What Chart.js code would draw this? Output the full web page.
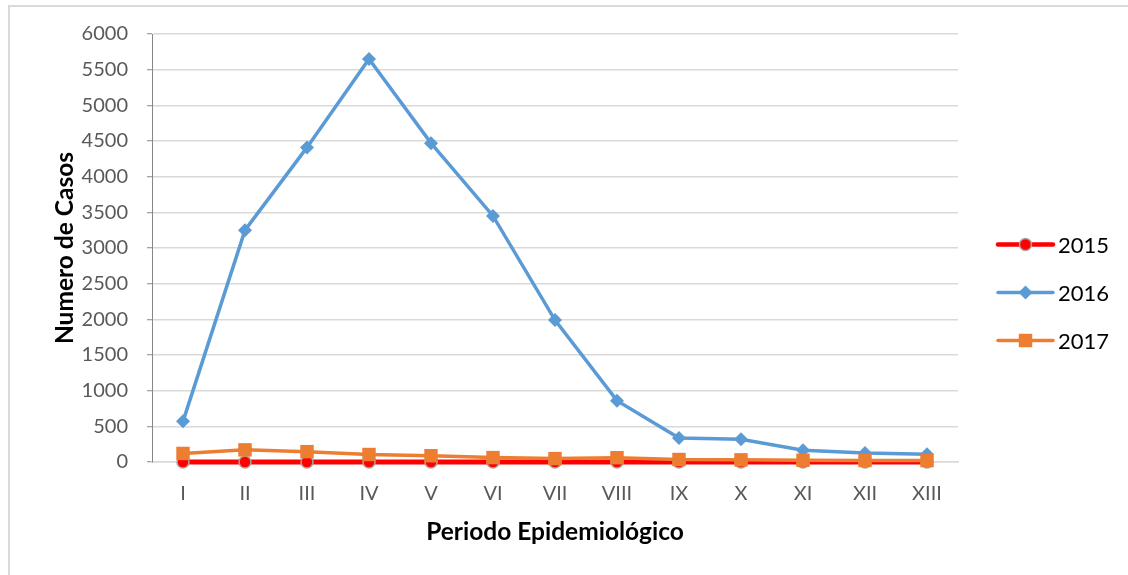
<!DOCTYPE html>
<html>
<head>
<meta charset="utf-8">
<script src="https://cdn.jsdelivr.net/npm/chart.js@4/dist/chart.umd.min.js"></script>
<style>
  html, body { margin: 0; padding: 0; background: #ffffff; }
  body { width: 1128px; height: 575px; overflow: hidden; position: relative; }
  #frame {
    position: absolute; left: 8px; top: 5px;
    width: 1120px; height: 570px;
    box-sizing: border-box;
    border-left: 2px solid #d9d9d9;
    border-top: 2px solid #d9d9d9;
    background: #ffffff;
  }
  #frame canvas { display: block; }
</style>
</head>
<body>
<div id="frame"><canvas id="chart" width="1118" height="568"></canvas></div>
<script>
// Epidemiological periods (x categories)
const periods = ['I', 'II', 'III', 'IV', 'V', 'VI', 'VII', 'VIII', 'IX', 'X', 'XI', 'XII', 'XIII'];

// Case counts per period, one array per year
const cases2015 = [0, 0, 0, 0, 0, 0, 0, 0, 0, 0, 0, 0, 0];
const cases2016 = [570, 3250, 4410, 5650, 4470, 3450, 1990, 860, 335, 320, 165, 125, 110];
const cases2017 = [120, 170, 145, 105, 88, 62, 48, 60, 35, 30, 25, 22, 20];

const seriesLabels = ['2015', '2016', '2017'];

// Y axis tick values
const yTicks = [0, 500, 1000, 1500, 2000, 2500, 3000, 3500, 4000, 4500, 5000, 5500, 6000];

const FONT = 'Lato, "Open Sans", "DejaVu Sans", sans-serif';

// Legend on the right: a short line with the series marker, then the label
const lineLegend = {
  id: 'lineLegend',
  afterDraw(chart) {
    const ctx = chart.ctx;
    const x0 = 988, x1 = 1043, xm = 1015.5, tx = 1048;
    const ys = [237.5, 285.5, 333.5];
    chart.data.datasets.forEach((ds, i) => {
      const y = ys[i];
      ctx.save();
      ctx.strokeStyle = ds.borderColor;
      ctx.lineWidth = ds.legendLineWidth;
      ctx.lineCap = 'round';
      ctx.beginPath();
      ctx.moveTo(x0, y);
      ctx.lineTo(x1, y);
      ctx.stroke();
      ctx.fillStyle = ds.pointBackgroundColor;
      ctx.strokeStyle = ds.pointBorderColor;
      ctx.lineWidth = ds.pointBorderWidth;
      ctx.beginPath();
      const r = ds.pointRadius;
      if (ds.pointStyle === 'circle') {
        ctx.arc(xm, y, r, 0, Math.PI * 2);
      } else if (ds.pointStyle === 'rectRot') {
        ctx.moveTo(xm, y - r); ctx.lineTo(xm + r, y); ctx.lineTo(xm, y + r); ctx.lineTo(xm - r, y); ctx.closePath();
      } else {
        const s = r * Math.SQRT1_2;
        ctx.rect(xm - s, y - s, 2 * s, 2 * s);
      }
      ctx.fill();
      if (ds.pointBorderWidth > 0) ctx.stroke();
      ctx.fillStyle = '#000000';
      ctx.font = '22px ' + FONT;
      ctx.textAlign = 'left';
      ctx.textBaseline = 'middle';
      ctx.fillText(ds.label, tx, y + 1);
      ctx.restore();
    });
  }
};

new Chart(document.getElementById('chart'), {
  type: 'line',
  data: {
    labels: periods,
    datasets: [
      {
        label: seriesLabels[0],
        data: cases2015,
        borderColor: '#ff0000',
        backgroundColor: '#ff0000',
        borderWidth: 5,
        legendLineWidth: 4.5,
        pointStyle: 'circle',
        pointRadius: 6,
        pointBackgroundColor: '#ff0000',
        pointBorderColor: '#a5a5a5',
        pointBorderWidth: 1.5,
        clip: false,
        order: 3
      },
      {
        label: seriesLabels[1],
        data: cases2016,
        borderColor: '#5b9bd5',
        backgroundColor: '#5b9bd5',
        borderWidth: 3.5,
        legendLineWidth: 3.5,
        pointStyle: 'rectRot',
        pointRadius: 7,
        pointBackgroundColor: '#5b9bd5',
        pointBorderColor: '#5b9bd5',
        pointBorderWidth: 0,
        clip: false,
        order: 2
      },
      {
        label: seriesLabels[2],
        data: cases2017,
        borderColor: '#ed7d31',
        backgroundColor: '#ed7d31',
        borderWidth: 3.5,
        legendLineWidth: 3.5,
        pointStyle: 'rect',
        pointRadius: 9.5,
        pointBackgroundColor: '#ed7d31',
        pointBorderColor: '#ed7d31',
        pointBorderWidth: 0,
        clip: false,
        order: 1
      }
    ]
  },
  options: {
    responsive: false,
    animation: false,
    devicePixelRatio: 1,
    layout: { padding: { left: 0, top: 27, right: 170, bottom: 0 } },
    elements: { line: { tension: 0 } },
    plugins: {
      legend: { display: false },
      tooltip: { enabled: false },
      title: { display: false }
    },
    scales: {
      x: {
        type: 'category',
        offset: true,
        grid: { display: false, drawTicks: false },
        border: { display: true, color: '#d9d9d9', width: 1.5 },
        ticks: {
          color: '#595959',
          font: { family: FONT, size: 20 },
          padding: 20,
          maxRotation: 0,
          autoSkip: false
        },
        title: {
          display: true,
          text: 'Periodo Epidemiológico',
          color: '#000000',
          font: { family: FONT, size: 24.5, weight: 'bold' },
          padding: { top: 0, bottom: 28 }
        },
        afterFit(scale) {
          scale.height = 113;
          scale.paddingLeft = 0;
          scale.paddingRight = 0;
        }
      },
      y: {
        type: 'linear',
        min: 0,
        max: 6000,
        afterBuildTicks(scale) { scale.ticks = yTicks.map(v => ({ value: v })); },
        grid: {
          color: '#d9d9d9',
          lineWidth: 1.5,
          drawTicks: true,
          tickLength: 5,
          tickColor: '#868686',
          tickWidth: 1
        },
        border: { display: true, color: '#868686', width: 1 },
        ticks: {
          color: '#595959',
          font: { family: FONT, size: 20 },
          padding: 19,
          callback: (v) => String(v)
        },
        title: {
          display: true,
          text: 'Numero de Casos',
          color: '#000000',
          font: { family: FONT, size: 24.5, weight: 'bold' },
          padding: { top: 40, bottom: 0 }
        },
        afterFit(scale) {
          scale.width = 142;
          scale.paddingTop = 0;
          scale.paddingBottom = 0;
        }
      }
    }
  },
  plugins: [lineLegend]
});
</script>
</body>
</html>
